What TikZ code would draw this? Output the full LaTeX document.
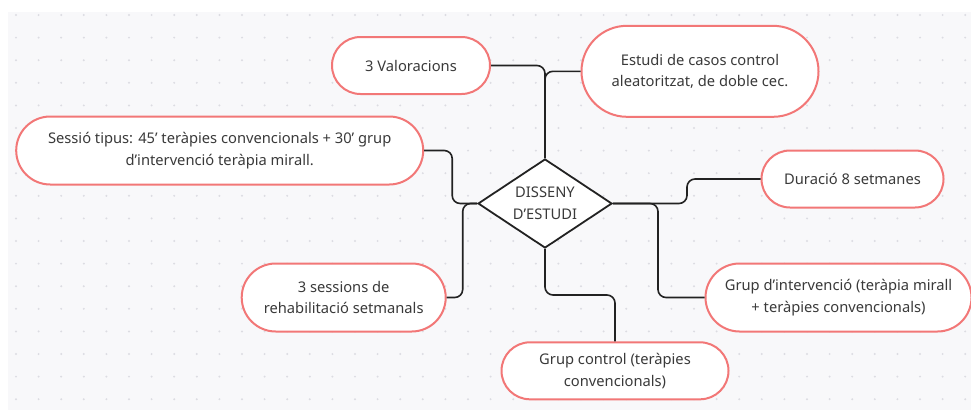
\documentclass[tikz,border=0pt]{standalone}
\usepackage{fontspec}
\setmainfont{Noto Sans}
\usetikzlibrary{shapes.geometric}
\definecolor{bgc}{HTML}{F8F8FA}
\definecolor{dotc}{HTML}{DCDCE2}
\definecolor{pillc}{HTML}{F27777}
\definecolor{txtc}{HTML}{3A3A3A}
\definecolor{linec}{HTML}{222222}
\begin{document}
\begin{tikzpicture}[x=1pt,y=-1pt,
  every node/.style={font=\fontsize{14.7pt}{21.7pt}\selectfont, text=txtc, align=center},
  pill/.style={draw=pillc, line width=2pt, fill=white, rounded corners=#1, inner sep=0pt},
  conn/.style={draw=linec, line width=1.6pt, rounded corners=8pt},
  hub/.style={diamond, draw=linec, line width=1.8pt, fill=white, inner sep=0pt, minimum width=134pt, minimum height=89pt}]
\useasboundingbox (0,0) rectangle (971,410);
\fill[bgc] (8,12) rectangle (971,410);
\foreach \i in {0,...,42} {\foreach \j in {0,...,17} {\fill[dotc] (16+22.6*\i,15+22.6*\j) circle (1.1pt);}}
\node[hub] (d) at (545,203.5) {};
\node (dt) at (d.center) {DISSENY\\D’ESTUDI};
\node[pill=28.5pt, minimum width=158pt, minimum height=57pt] (val) at (411,65.5) {3 Valoracions};
\node[pill=45.5pt, minimum width=237pt, minimum height=91pt] (est) at (700,71.3) {Estudi de casos control\\aleatoritzat, de doble cec.};
\node[pill=34pt, minimum width=407pt, minimum height=68pt] (ses) at (219.7,150.5) {Sessió tipus: 45’ teràpies convencionals + 30’ grup\\d’intervenció teràpia mirall.};
\node[pill=28.5pt, minimum width=182pt, minimum height=57pt] (dur) at (852.5,179) {Duració 8 setmanes};
\node[pill=34pt, minimum width=204pt, minimum height=68pt] (s3) at (343.7,297.5) {3 sessions de\\rehabilitació setmanals};
\node[pill=34pt, minimum width=266pt, minimum height=68pt] (gi) at (838.5,297.5) {Grup d’intervenció (teràpia mirall\\+ teràpies convencionals)};
\node[pill=28.5pt, minimum width=227pt, minimum height=57pt] (gc) at (615,370.8) {Grup control (teràpies\\convencionals)};
\coordinate (gcm) at (545,295);
\draw[conn] (d.north) |- (val.east);
\draw[conn] (d.north) |- (est.west);
\draw[conn] (ses.east) -- ++(28,0) |- (d.west);
\draw[conn] (s3.east) -- ++(16,0) |- (d.west);
\draw[conn] (dur.west) -- ++(-73.5,0) |- (d.east);
\draw[conn] (gi.west) -- ++(-46.5,0) |- (d.east);
\draw[conn] (d.south) -- (gcm) -| (gc.north);
\end{tikzpicture}
\end{document}
